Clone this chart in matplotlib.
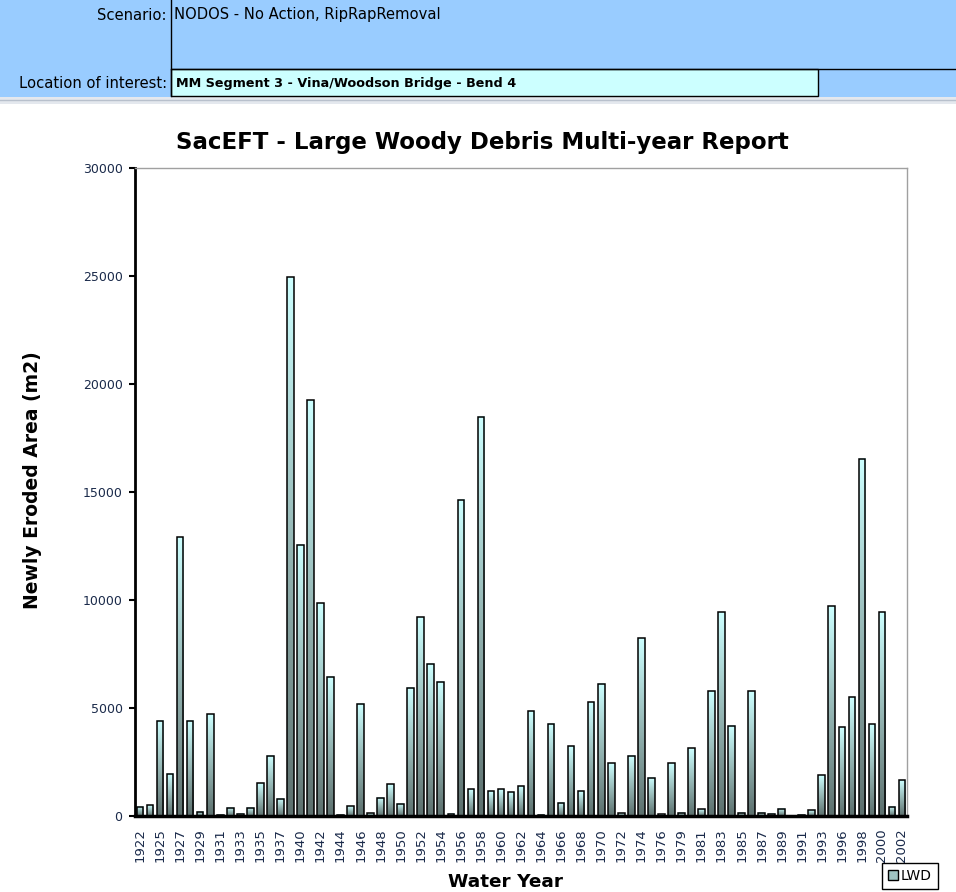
import matplotlib
matplotlib.use("Agg")
from matplotlib import pyplot as plt
from matplotlib.colors import LinearSegmentedColormap
from matplotlib.patches import Rectangle
from matplotlib.lines import Line2D
import numpy as np

W, H = 956, 892

scenario = "NODOS - No Action, RipRapRemoval"
location = "MM Segment 3 - Vina/Woodson Bridge - Bend 4"

years = [1922, 1924, 1925, 1926, 1927, 1928, 1929, 1930, 1931, 1932, 1933, 1934,
         1935, 1936, 1937, 1938, 1940, 1941, 1942, 1943, 1944, 1945, 1946, 1947,
         1948, 1949, 1950, 1951, 1952, 1953, 1954, 1955, 1956, 1957, 1958, 1959,
         1960, 1961, 1962, 1963, 1964, 1965, 1966, 1967, 1968, 1969, 1970, 1971,
         1972, 1973, 1974, 1975, 1976, 1978, 1979, 1980, 1981, 1982, 1983, 1984,
         1985, 1986, 1987, 1988, 1989, 1990, 1991, 1992, 1993, 1995, 1996, 1997,
         1998, 1999, 2000, 2001, 2002]
lwd = [430, 500, 4400, 1950, 12900, 4400, 200, 4700, 50, 380, 100, 380,
       1520, 2800, 790, 24950, 12550, 19250, 9850, 6450, 50, 450, 5200, 120,
       850, 1480, 560, 5940, 9210, 7040, 6220, 100, 14650, 1240, 18490, 1150,
       1240, 1090, 1380, 4860, 50, 4280, 620, 3240, 1150, 5260, 6120, 2440,
       120, 2780, 8230, 1780, 70, 2440, 150, 3130, 320, 5770, 9440, 4170,
       150, 5770, 150, 110, 340, 0, 60, 260, 1880, 9720, 4100, 5490,
       16540, 4240, 9440, 430, 1650]


def fx(px):
    return px / W


def fy(py):
    return 1 - py / H


fig = plt.figure(figsize=(W / 100, H / 100), dpi=100)
fig.patch.set_facecolor("white")

# spreadsheet-style header
narrow = dict(family="DejaVu Sans", fontstretch="condensed", fontsize=11.8)
fig.patches.append(Rectangle((0, fy(97)), 1, 97 / H, transform=fig.transFigure,
                             facecolor="#99ccff", edgecolor="none", zorder=0))
fig.patches.append(Rectangle((fx(171), fy(96)), fx(818 - 171), 27 / H,
                             transform=fig.transFigure, facecolor="#ccffff",
                             edgecolor="black", linewidth=1, zorder=1))
fig.patches.append(Rectangle((0, fy(104)), 1, 7 / H, transform=fig.transFigure,
                             facecolor="#e4e8ee", edgecolor="none", zorder=0))
fig.lines.append(Line2D([fx(171), fx(171)], [fy(0), fy(96)], transform=fig.transFigure,
                        color="black", linewidth=1))
fig.lines.append(Line2D([fx(171), 1], [fy(69), fy(69)], transform=fig.transFigure,
                        color="black", linewidth=1))
fig.lines.append(Line2D([0, 1], [fy(100), fy(100)], transform=fig.transFigure,
                        color="#b8c0cc", linewidth=1))
fig.text(fx(167), fy(15), "Scenario:", ha="right", va="center", **narrow)
fig.text(fx(174), fy(15), scenario, ha="left", va="center", **narrow)
fig.text(fx(167), fy(83), "Location of interest:", ha="right", va="center", **narrow)
fig.text(fx(176), fy(83), location, ha="left", va="center", fontsize=9.2,
         fontweight="bold")

ax = fig.add_axes([fx(135), fy(816), fx(907 - 135), (816 - 168) / H])
x = np.arange(len(years))
width = 0.66

# each bar gets its own vertical fade from slate at the base to pale cyan at the top
cmap = LinearSegmentedColormap.from_list("lwd", ["#5c6f6d", "#95b6b4", "#ccffff"])
grad = np.linspace(0, 1, 256).reshape(-1, 1)
for xi, v in zip(x, lwd):
    if v > 0:
        ax.imshow(grad, extent=(xi - width / 2, xi + width / 2, 0, v), origin="lower",
                  aspect="auto", cmap=cmap, zorder=2, interpolation="bilinear")
ax.bar(x, lwd, width=width, facecolor="none", edgecolor="black", linewidth=1.1,
       zorder=3)

ax.set_xlim(-0.5, len(years) - 0.5)
ax.set_ylim(0, 30000)
ax.set_aspect("auto")
ax.set_yticks(range(0, 30001, 5000))
ax.set_xticks(x[::2])
ax.set_xticklabels([str(y) for y in years[::2]], rotation=90, fontsize=9.5,
                   color="#1a2a4a")
ax.tick_params(axis="y", labelsize=9, labelcolor="#1a2a4a", direction="out",
               length=4, width=1.5, pad=5)
ax.tick_params(axis="x", length=0, pad=9)

for side in ("top", "right"):
    ax.spines[side].set_color("#a0a0a0")
    ax.spines[side].set_linewidth(1)
ax.spines["left"].set_linewidth(2)
ax.spines["bottom"].set_linewidth(2.5)

fig.text(fx(482), fy(142), "SacEFT - Large Woody Debris Multi-year Report",
         ha="center", va="center", fontsize=16.5, fontweight="bold")
fig.text(fx(33), fy(480), "Newly Eroded Area (m2)", rotation=90, ha="center",
         va="center", fontsize=13.5, fontweight="bold")
fig.text(fx(505), fy(882), "Water Year", ha="center", va="center", fontsize=13.3,
         fontweight="bold")

# legend box in the bottom-right corner, below the last axis labels
handle = Rectangle((0, 0), 1, 1, facecolor="#9fc4c2", edgecolor="black", linewidth=1)
leg = fig.legend([handle], ["LWD"], loc="center", bbox_to_anchor=(fx(910), fy(876)),
                 frameon=True, fancybox=False, framealpha=1, fontsize=10,
                 handlelength=0.7, handleheight=0.7, handletextpad=0.2,
                 borderpad=0.45, borderaxespad=0)
leg.get_frame().set_edgecolor("black")
leg.get_frame().set_linewidth(1)
leg.set_zorder(10)

fig.savefig("out.png", dpi=100)
